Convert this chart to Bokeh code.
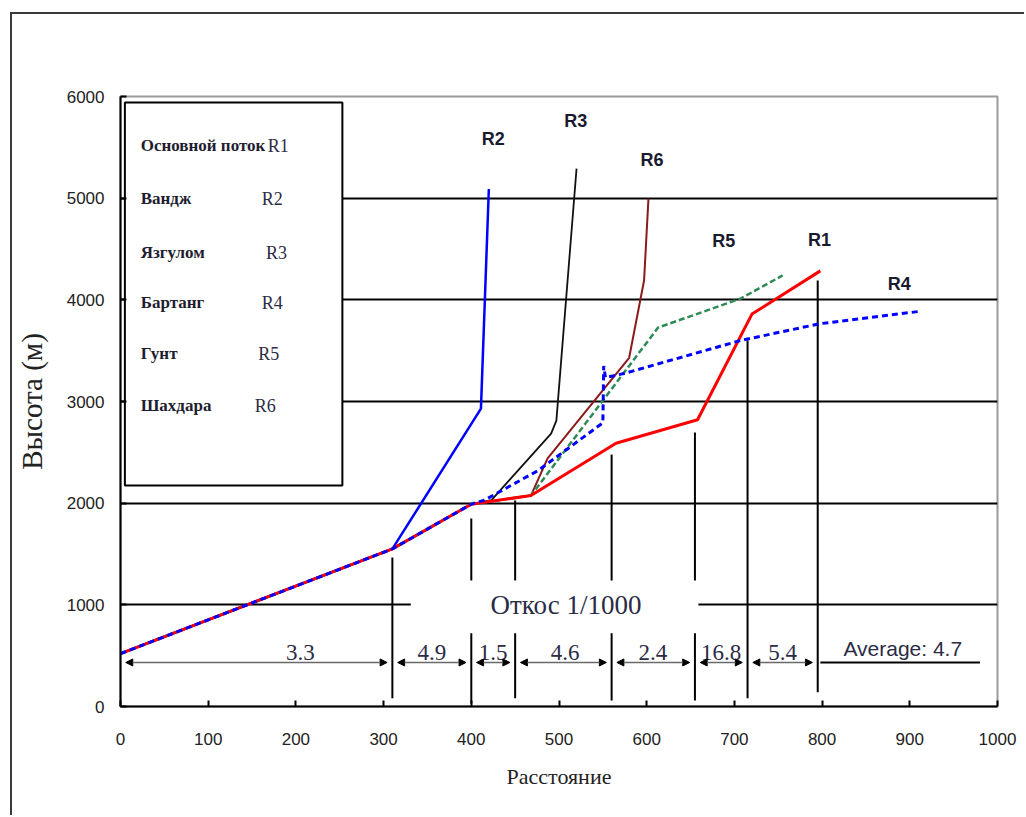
from bokeh.plotting import figure
from bokeh.models import Range1d, ColumnDataSource, Arrow, NormalHead, FixedTicker
from bokeh.embed import file_html
from bokeh.resources import INLINE
from bokeh.core.properties import value

# ---- river longitudinal profiles: distance (km) / elevation (m) ----
r1_x = [0, 310, 400, 468, 565, 658, 720, 798]
r1_y = [520, 1550, 1990, 2075, 2590, 2820, 3860, 4285]

r2_x = [0, 310, 411, 420]
r2_y = [520, 1550, 2930, 5090]

r3_x = [0, 310, 400, 423, 491, 497, 520]
r3_y = [520, 1550, 1990, 2030, 2684, 2812, 5290]

r4_x = [0, 310, 400, 415, 476, 550, 551, 553, 574, 707, 798, 910]
r4_y = [520, 1550, 1990, 2030, 2320, 2790, 3350, 3235, 3275, 3600, 3766, 3885]

r5_x = [0, 310, 400, 468, 613, 707, 755]
r5_y = [520, 1550, 1990, 2075, 3727, 4012, 4240]

r6_x = [0, 310, 400, 468, 487, 580, 597, 602]
r6_y = [520, 1550, 1990, 2075, 2440, 3430, 4190, 4995]

# ---- end-of-line tags ----
tag_text = ["R1", "R2", "R3", "R4", "R5", "R6"]
tag_x = [797, 425, 519, 888, 688, 606]
tag_y = [4592, 5585, 5762, 4159, 4582, 5378]

# ---- legend rows ----
legend_names = ["Основной поток", "Вандж", "Язгулом", "Бартанг", "Гунт", "Шахдара"]
legend_codes = ["R1", "R2", "R3", "R4", "R5", "R6"]
legend_code_x = [168, 161, 166, 161, 157, 153]
legend_row_y = [5516, 4995, 4464, 3972, 3471, 2960]

# ---- main-stream reaches and their slopes ----
reach_bounds = [0, 310, 400, 450, 560, 655, 715, 795]
reach_slopes = ["3.3", "4.9", "1.5", "4.6", "2.4", "16.8", "5.4"]
slope_label_x = [205, 355, 425, 507, 607, 685, 755]
marker_x = [310, 400, 450, 560, 655, 715, 795]
marker_top = [1465, 1849, 2026, 2478, 2694, 3599, 4189]
marker_bottom = [80, 30, 80, 60, 60, 80, 140]
average_text = "Average: 4.7"

x_ticks = [0, 100, 200, 300, 400, 500, 600, 700, 800, 900, 1000]
y_ticks = [0, 1000, 2000, 3000, 4000, 5000, 6000]
grid_levels = [1000, 2000, 3000, 4000, 5000]

SERIF = "Liberation Serif"
SANS = "Liberation Sans"
TEXT_COLOR = "#2b2b45"

p = figure(width=1014, height=803,
           x_range=Range1d(0, 1000), y_range=Range1d(0, 6000),
           output_backend="svg", toolbar_location=None,
           min_border_left=107, min_border_right=29,
           min_border_top=82, min_border_bottom=111)

# page frame around the whole figure (left and top edges visible)
p.margin = (12, 0, 0, 10)
p.styles = {"border-left": "2px solid #3a3a3a", "border-top": "2px solid #3a3a3a"}

p.background_fill_color = "white"
p.border_fill_color = "white"
p.outline_line_color = "#9a9a9a"
p.outline_line_width = 2

# axes
p.xaxis.ticker = FixedTicker(ticks=x_ticks)
p.yaxis.ticker = FixedTicker(ticks=y_ticks)
for ax in (p.xaxis[0], p.yaxis[0]):
    ax.axis_line_color = "black"
    ax.axis_line_width = 2
    ax.major_tick_line_color = "black"
    ax.major_tick_line_width = 2
    ax.major_tick_in = 6
    ax.major_tick_out = 0
    ax.minor_tick_line_color = None
    ax.major_label_text_font = SANS
    ax.major_label_text_font_size = "17px"
    ax.major_label_text_color = "#222222"
    ax.axis_label_text_font = SERIF
    ax.axis_label_text_font_style = "normal"
    ax.axis_label_text_color = "#222222"

p.xaxis.axis_label = "Расстояние"
p.xaxis.axis_label_text_font_size = "22px"
p.xaxis.major_label_standoff = 26
p.xaxis.axis_label_standoff = 16

p.yaxis.axis_label = "Высота (м)"
p.yaxis.axis_label_text_font_size = "29px"
p.yaxis.major_label_standoff = 16
p.yaxis.axis_label_standoff = 16

p.xgrid.visible = False
p.ygrid.ticker = FixedTicker(ticks=grid_levels)
p.ygrid.grid_line_color = "black"
p.ygrid.grid_line_width = 2

# reach boundary markers
p.segment(x0=marker_x, y0=marker_bottom, x1=marker_x, y1=marker_top,
          line_color="black", line_width=2)

# blank area behind the slope caption
p.quad(left=[331], right=[659], bottom=[720], top=[1240],
       fill_color="white", line_color=None)
p.text(x=[508], y=[1000], text=["Откос 1/1000"], text_font=value(SERIF),
       text_font_size="27px", text_color=TEXT_COLOR,
       text_align="center", text_baseline="middle")

# dimension arrows with reach slopes
arrow_src = ColumnDataSource(dict(
    x0=[b + 6 for b in reach_bounds[:-1]],
    x1=[b - 6 for b in reach_bounds[1:]],
    y=[433] * (len(reach_bounds) - 1),
))
p.add_layout(Arrow(x_start="x0", y_start="y", x_end="x1", y_end="y",
                   source=arrow_src, line_color="#6a6a6a", line_width=1.5,
                   start=NormalHead(size=7, fill_color="black", line_color="black"),
                   end=NormalHead(size=7, fill_color="black", line_color="black")))
p.text(x=slope_label_x, y=[536] * len(reach_slopes), text=reach_slopes,
       text_font=value(SERIF), text_font_size="23px", text_color=TEXT_COLOR,
       text_align="center", text_baseline="middle")

p.segment(x0=[reach_bounds[-1] + 3], y0=[433], x1=[980], y1=[433],
          line_color="black", line_width=2)
p.text(x=[892], y=[566], text=[average_text], text_font=value(SANS),
       text_font_size="21px", text_color=TEXT_COLOR,
       text_align="center", text_baseline="middle")

# profiles
p.line(r2_x, r2_y, line_color="#0000ff", line_width=2.5)
p.line(r3_x, r3_y, line_color="#111111", line_width=1.8)
p.line(r6_x, r6_y, line_color="#8b1a1a", line_width=2)
p.line(r5_x, r5_y, line_color="#2e8b57", line_width=2.5, line_dash="6 3")
p.line(r1_x, r1_y, line_color="#ff0000", line_width=3)
p.line(r4_x, r4_y, line_color="#0000ff", line_width=3, line_dash="6 4")

p.text(x=tag_x, y=tag_y, text=tag_text, text_font=value(SANS),
       text_font_style="bold", text_font_size="18px", text_color="#1a1a2e",
       text_align="center", text_baseline="middle")

# legend panel
p.quad(left=[5], right=[253], bottom=[2175], top=[5940],
       fill_color="white", line_color="black", line_width=2)
p.text(x=[23] * len(legend_names), y=legend_row_y, text=legend_names,
       text_font=value(SERIF), text_font_style="bold", text_font_size="17px",
       text_color="#1e1e30", text_align="left", text_baseline="middle")
p.text(x=legend_code_x, y=legend_row_y, text=legend_codes,
       text_font=value(SERIF), text_font_size="18px", text_color=TEXT_COLOR,
       text_align="left", text_baseline="middle")

open("out.html", "w").write(file_html(p, INLINE))
